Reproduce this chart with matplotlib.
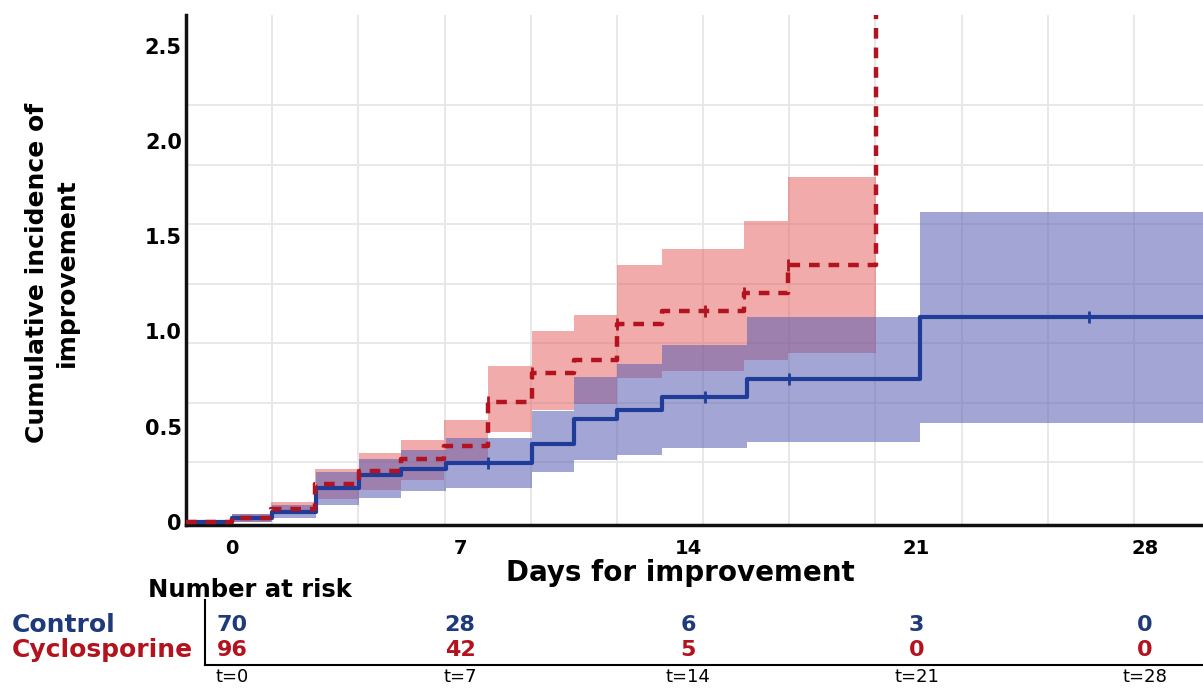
import numpy as np
import matplotlib
matplotlib.use("Agg")
import matplotlib.pyplot as plt

plt.rcParams['font.family'] = ['DejaVu Sans']

# Control (blue): step times, level, lower / upper band
control_t = [0, 1.23, 2.58, 3.9, 5.2, 6.56, 9.2, 10.5, 11.8, 13.2, 15.8, 21.1]
control_s = [0.02, 0.05, 0.18, 0.245, 0.28, 0.31, 0.41, 0.54, 0.59, 0.655, 0.75, 1.075]
control_lo = [0.0, 0.02, 0.09, 0.125, 0.16, 0.18, 0.26, 0.325, 0.35, 0.39, 0.42, 0.52]
control_hi = [0.04, 0.09, 0.26, 0.33, 0.38, 0.44, 0.58, 0.76, 0.83, 0.93, 1.075, 1.625]
control_cens = [7.85, 14.5, 17.1, 26.3]

# Cyclosporine (red)
cyclo_t = [0, 1.2, 2.55, 3.9, 5.2, 6.5, 7.85, 9.2, 10.5, 11.8, 13.2, 15.7, 17.05, 19.75]
cyclo_s = [0.02, 0.07, 0.2, 0.27, 0.33, 0.40, 0.63, 0.78, 0.85, 1.04, 1.105, 1.2, 1.35, 2.8]
cyclo_lo = [0.0, 0.04, 0.12, 0.17, 0.22, 0.30, 0.47, 0.59, 0.62, 0.755, 0.79, 0.85, 0.885]
cyclo_hi = [0.04, 0.105, 0.28, 0.36, 0.43, 0.535, 0.82, 1.0, 1.085, 1.35, 1.435, 1.58, 1.81]
cyclo_cens = [7.85, 9.2, 11.8, 14.5, 15.7, 17.05]

# number at risk
risk_days = [0, 7, 14, 21, 28]
risk_control = [70, 28, 6, 3, 0]
risk_cyclo = [96, 42, 5, 0, 0]

blue = '#1f3c98'
red = '#b3121f'
xmin, xmax = -1.41, 29.79

fig = plt.figure(figsize=(12.03, 6.94), dpi=100)
ax = fig.add_axes([0.1546, 0.2435, 0.8454, 0.7345])

# bands: red first, blue on top -> purple overlap
for i in range(len(cyclo_lo)):
    ax.fill_between([cyclo_t[i], cyclo_t[i + 1]], cyclo_lo[i], cyclo_hi[i],
                    color='#e65f5f', alpha=0.52, lw=0)
ct_end = control_t[1:] + [xmax + 1]
for i in range(len(control_lo)):
    ax.fill_between([control_t[i], ct_end[i]], control_lo[i], control_hi[i],
                    color='#585db1', alpha=0.55, lw=0)

# step curves
ax.step([xmin] + control_t + [xmax + 1], [0] + control_s + [control_s[-1]],
        where='post', color=blue, lw=3.0, zorder=4)
ax.step([xmin] + cyclo_t, [0] + cyclo_s, where='post', color=red, lw=3.2,
        dashes=(2.4, 2.0), zorder=5)

# censor marks
def level(times, vals, t):
    return vals[np.searchsorted(times, t, side='right') - 1]

ax.plot(control_cens, [level(control_t, control_s, t) for t in control_cens],
        ls='none', marker='|', ms=9, mew=2, color=blue, zorder=6)
ax.plot(cyclo_cens, [level(cyclo_t, cyclo_s, t) for t in cyclo_cens],
        ls='none', marker='|', ms=9, mew=2, color=red, zorder=6)

ax.set_xlim(xmin, xmax)
ax.set_ylim(-0.016, 2.66)
ax.set_xticks([0, 7, 14, 21, 28])
ax.set_yticks([0, 0.5, 1.0, 1.5, 2.0, 2.5])
ax.set_yticklabels(['0', '0.5', '1.0', '1.5', '2.0', '2.5'])
ax.set_xticks(np.arange(xmin, xmax, 2.644)[1:], minor=True)
ax.set_yticks(np.arange(0, 2.6, 0.3125), minor=True)
ax.grid(which='minor', color='#e6e6e6', lw=1.3)
ax.set_axisbelow(True)
ax.tick_params(which='both', length=0)
ax.tick_params(axis='x', pad=10, labelsize=14)
ax.tick_params(axis='y', pad=3, labelsize=15)
for lab in ax.get_xticklabels() + ax.get_yticklabels():
    lab.set_fontweight('bold')
for s in ['top', 'right']:
    ax.spines[s].set_visible(False)
for s in ['left', 'bottom']:
    ax.spines[s].set_linewidth(2.5)
    ax.spines[s].set_color('#111111')

fig.text(52 / 1203, 1 - 273 / 694, 'Cumulative incidence of\nimprovement',
         rotation=90, ha='center', va='center', fontsize=18, fontweight='bold',
         multialignment='center', linespacing=1.3)
fig.text(680 / 1203, 1 - 573 / 694, 'Days for improvement', ha='center',
         va='center', fontsize=20, fontweight='bold')

# number at risk table
tx = fig.add_axes([205 / 1203, 1 - 665 / 694, 1 - 205 / 1203, 65 / 694])
tx.set_xlim((205 - 232) / 32.6, xmax)
tx.set_ylim(0, 1)
tx.set_yticks([])
tx.set_xticks(risk_days)
tx.set_xticklabels(['t=%d' % d for d in risk_days])
tx.tick_params(axis='x', length=0, pad=2, labelsize=13)
for s in ['top', 'right']:
    tx.spines[s].set_visible(False)
for s in ['left', 'bottom']:
    tx.spines[s].set_linewidth(1.5)
for d, a, b in zip(risk_days, risk_control, risk_cyclo):
    tx.text(d, 0.615, str(a), color='#1f3a7a', ha='center', va='center',
            fontsize=16, fontweight='bold')
    tx.text(d, 0.23, str(b), color='#b3121f', ha='center', va='center',
            fontsize=16, fontweight='bold')

fig.text(148 / 1203, 1 - 590 / 694, 'Number at risk', ha='left', va='center',
         fontsize=17.5, fontweight='bold')
fig.text(12 / 1203, 1 - 625 / 694, 'Control', ha='left', va='center',
         fontsize=18, fontweight='bold', color='#1f3a7a')
fig.text(12 / 1203, 1 - 650 / 694, 'Cyclosporine', ha='left', va='center',
         fontsize=18, fontweight='bold', color='#b3121f')

fig.savefig('out.png', dpi=100)
